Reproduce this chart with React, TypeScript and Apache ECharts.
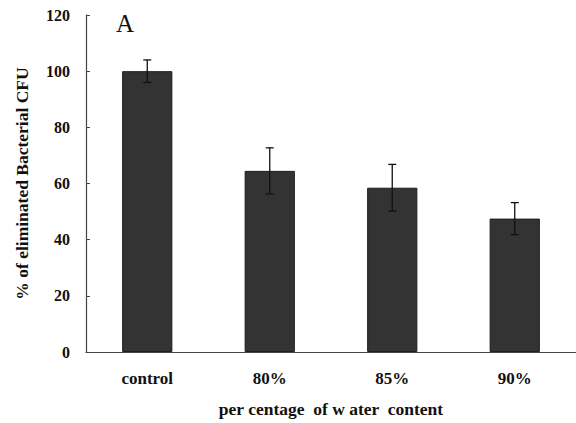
import React, { useEffect, useRef } from "react";
import * as echarts from "echarts";

const categories = ["control", "80%", "85%", "90%"];
const means = [100, 64.5, 58.5, 47.5];
const errors = [4, 8.2, 8.3, 5.7];
const yTicks = { min: 0, max: 120, interval: 20 };

const serif = '"Liberation Serif", "DejaVu Serif", serif';

export default function App() {
  const ref = useRef<HTMLDivElement>(null);

  useEffect(() => {
    if (!ref.current) return;
    const chart = echarts.init(ref.current, null, { renderer: "svg" });

    const errorData = categories.map((_, i) => [i, means[i] - errors[i], means[i] + errors[i]]);

    chart.setOption({
      animation: false,
      backgroundColor: "#ffffff",
      grid: { left: 86, top: 15, bottom: 69, right: -7, containLabel: false },
      graphic: [
        {
          type: "text",
          left: 116,
          top: 11,
          style: { text: "A", font: `25px ${serif}`, fill: "#111" },
        },
      ],
      xAxis: {
        type: "category",
        data: categories,
        name: "per centage  of w ater  content",
        nameLocation: "middle",
        nameGap: 48,
        nameTextStyle: { fontFamily: serif, fontWeight: "bold", fontSize: 17.5, color: "#111" },
        axisLine: { lineStyle: { color: "#444", width: 1.2 } },
        axisTick: { inside: true, length: 5, lineStyle: { color: "#444" } },
        axisLabel: {
          margin: 18,
          fontFamily: serif,
          fontWeight: "bold",
          fontSize: 17,
          color: "#111",
        },
      },
      yAxis: {
        type: "value",
        min: yTicks.min,
        max: yTicks.max,
        interval: yTicks.interval,
        name: "% of eliminated Bacterial CFU",
        nameLocation: "middle",
        nameGap: 55,
        nameRotate: 90,
        nameTextStyle: { fontFamily: serif, fontWeight: "bold", fontSize: 17.5, color: "#111" },
        axisLine: { show: true, lineStyle: { color: "#444", width: 1.2 } },
        axisTick: { show: true, inside: true, length: 4, lineStyle: { color: "#444" } },
        splitLine: { show: false },
        axisLabel: {
          margin: 16,
          fontFamily: serif,
          fontWeight: "bold",
          fontSize: 16,
          color: "#111",
        },
      },
      series: [
        {
          type: "bar",
          data: means,
          barWidth: "41%",
          itemStyle: { color: "#333333", borderColor: "#1e1e1e", borderWidth: 1 },
        },
        {
          type: "custom",
          data: errorData,
          z: 10,
          renderItem: (params: any, api: any) => {
            const x = api.value(0);
            const lo = api.coord([x, api.value(1)]);
            const hi = api.coord([x, api.value(2)]);
            const cap = 4;
            const style = { stroke: "#111", lineWidth: 1.3 };
            return {
              type: "group",
              children: [
                { type: "line", shape: { x1: hi[0], y1: hi[1], x2: lo[0], y2: lo[1] }, style },
                { type: "line", shape: { x1: hi[0] - cap, y1: hi[1], x2: hi[0] + cap, y2: hi[1] }, style },
                { type: "line", shape: { x1: lo[0] - cap, y1: lo[1], x2: lo[0] + cap, y2: lo[1] }, style },
              ],
            };
          },
        },
      ],
    });

    return () => chart.dispose();
  }, []);

  return (
    <div
      ref={ref}
      style={{ position: "absolute", left: 0, top: 0, width: 576, height: 423 }}
    />
  );
}
